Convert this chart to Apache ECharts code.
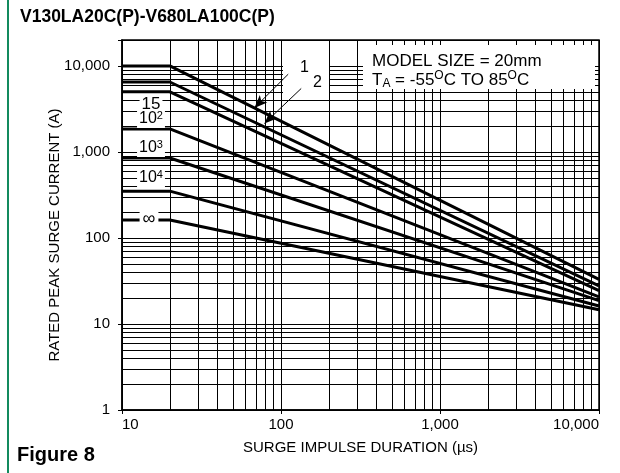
<!DOCTYPE html>
<html>
<head>
<meta charset="utf-8"/>
<title>Figure 8</title>
<script src="https://cdn.jsdelivr.net/npm/echarts@6/dist/echarts.min.js"></script>
<style>
	* { margin: 0; padding: 0; }
	body { background: #fff; }
	#chart { width: 620px; height: 473px; }
</style>
</head>
<body>
<div id="chart"></div>
<script>
// surge duration points (us): flat part ends at 20, lines run to 10,000
var durations = [10, 20, 10000];
var curveNames = ['1', '2', '15', '10^2', '10^3', '10^4', 'inf'];
// rated current on the flat part (A)
var flatCurrent = [10000, 6500, 5000, 1850, 850, 350, 162];
// rated current at 10,000 us (A)
var endCurrent = [33, 27.7, 24.4, 20.7, 18.7, 16.2, 14.6];

// minor grid values
var xMinor = [20, 30, 40, 50, 60, 70, 80, 90, 200, 300, 400, 500, 600, 700, 800, 900,
	2000, 3000, 4000, 5000, 6000, 7000, 8000, 9000];
var yMinor = [2, 3, 4, 5, 6, 7, 8, 9, 20, 30, 40, 50, 60, 70, 80, 90,
	200, 300, 400, 500, 600, 700, 800, 900, 2000, 3000, 4000, 5000, 6000, 7000, 8000, 9000];

// arrows for curves 1 and 2: [tail, head] in (us, A)
var arrow1 = [[111, 8010], [68, 3245]];
var arrow2 = [[134, 5465], [78.7, 2143]];

var FONT = "'Liberation Sans', Arial, Helvetica, sans-serif";

function majorLabel(v) {
	var e = Math.log10(v);
	if (Math.abs(e - Math.round(e)) > 1e-6) return '';
	if (v > 10001) return '';
	return Math.round(v).toLocaleString('en-US');
}

var series = [];

// minor grid lines
var gridMarks = [];
xMinor.forEach(function (v) { gridMarks.push({ xAxis: v }); });
yMinor.forEach(function (v) { gridMarks.push({ yAxis: v }); });
series.push({
	type: 'line',
	data: [],
	z: 1,
	silent: true,
	markLine: {
		z: 1,
		silent: true,
		symbol: ['none', 'none'],
		label: { show: false },
		lineStyle: { color: '#000', width: 1, type: 'solid' },
		data: gridMarks
	}
});

for (var i = 0; i < curveNames.length; i++) {
	series.push({
		name: curveNames[i],
		type: 'line',
		z: 3,
		symbol: 'none',
		silent: true,
		lineStyle: { color: '#000', width: 3 },
		data: [
			[durations[0], flatCurrent[i]],
			[durations[1], flatCurrent[i]],
			[durations[2], endCurrent[i]]
		]
	});
}

// arrows
series.push({
	type: 'line',
	data: [],
	z: 4,
	silent: true,
	markLine: {
		z: 5,
		silent: true,
		symbol: ['none', 'arrow'],
		symbolSize: [8, 13],
		label: { show: false },
		lineStyle: { color: '#000', width: 1, type: 'solid' },
		data: [
			[{ coord: arrow1[0] }, { coord: arrow1[1] }],
			[{ coord: arrow2[0] }, { coord: arrow2[1] }]
		]
	}
});

var supRich = {
	n: { fontSize: 16, fontFamily: FONT, color: '#000', lineHeight: 18, verticalAlign: 'middle' },
	sup: { fontSize: 11, fontFamily: FONT, color: '#000', lineHeight: 18, verticalAlign: 'top' },
	sub: { fontSize: 11, fontFamily: FONT, color: '#000', lineHeight: 18, verticalAlign: 'bottom' }
};
var boxRich = {
	n: { fontSize: 17, fontFamily: FONT, color: '#000', lineHeight: 18, verticalAlign: 'middle' },
	sup: { fontSize: 12, fontFamily: FONT, color: '#000', lineHeight: 18, verticalAlign: 'top' },
	sub: { fontSize: 12, fontFamily: FONT, color: '#000', lineHeight: 20, verticalAlign: 'bottom' }
};

function txt(x, y, text, opts) {
	opts = opts || {};
	return {
		type: 'text',
		x: x, y: y,
		z: opts.z || 10,
		silent: true,
		style: Object.assign({
			text: text,
			fill: '#000',
			font: (opts.weight || 'normal') + ' ' + (opts.size || 16) + 'px ' + FONT,
			align: opts.align || 'left',
			verticalAlign: 'middle',
			textAlign: opts.align || 'left',
			textVerticalAlign: 'middle'
		}, opts.style || {})
	};
}

var graphics = [
	{ type: 'line', z: 10, silent: true, shape: { x1: 8, y1: 0, x2: 8, y2: 473 }, style: { stroke: '#138a5e', lineWidth: 2 } },
	txt(20, 17, 'V130LA20C(P)-V680LA100C(P)', { weight: 'bold', size: 17.5 }),
	txt(17, 455, 'Figure 8', { weight: 'bold', size: 20 }),
	// blank boxes over the grid
	{ type: 'rect', z: 2, silent: true, shape: { x: 283, y: 41, width: 46, height: 55 }, style: { fill: '#fff' } },
	{ type: 'rect', z: 2, silent: true, shape: { x: 363, y: 45, width: 232, height: 44 }, style: { fill: '#fff' } },
	txt(372, 61, 'MODEL SIZE = 20mm', { size: 17 }),
	txt(372, 80, '{n|T}{sub|A}{n| = -55}{sup|O}{n|C TO 85}{sup|O}{n|C}', { style: { rich: boxRich } }),
	txt(300, 68, '1', { size: 16 }),
	txt(313, 83, '2', { size: 16 }),
	txt(151, 104, '15', { align: 'center', size: 17, style: { backgroundColor: '#fff', padding: [0, 2] } }),
	txt(151, 119, '{n|10}{sup|2}', { align: 'center', style: { rich: supRich, backgroundColor: '#fff', padding: [0, 2] } }),
	txt(151, 148, '{n|10}{sup|3}', { align: 'center', style: { rich: supRich, backgroundColor: '#fff', padding: [0, 2] } }),
	txt(151, 178, '{n|10}{sup|4}', { align: 'center', style: { rich: supRich, backgroundColor: '#fff', padding: [0, 2] } }),
	txt(149, 219, '\u221e', { align: 'center', size: 18, style: { backgroundColor: '#fff', padding: [0, 3] } })
];

var chart = echarts.init(document.getElementById('chart'), null, { renderer: 'canvas' });
chart.setOption({
	animation: false,
	backgroundColor: '#fff',
	grid: {
		left: 122, right: 21, top: 40, bottom: 63,
		show: true, borderColor: '#000', borderWidth: 1.5, backgroundColor: 'transparent'
	},
	xAxis: {
		type: 'log', logBase: 10, min: 10, max: 10000,
		name: 'SURGE IMPULSE DURATION (\u00b5s)',
		nameLocation: 'middle', nameGap: 30,
		nameMoveOverlap: false,
		nameTextStyle: { fontSize: 15, fontFamily: FONT, color: '#000' },
		axisLine: { show: true, lineStyle: { color: '#000', width: 1.5 } },
		axisTick: { show: true, length: 4, lineStyle: { color: '#000' } },
		axisLabel: {
			fontSize: 15, fontFamily: FONT, color: '#000', margin: 7,
			alignMinLabel: 'left', alignMaxLabel: 'right',
			formatter: majorLabel
		},
		splitLine: { show: true, lineStyle: { color: '#000', width: 1 } },
		minorTick: { show: false },
		minorSplitLine: { show: false }
	},
	yAxis: {
		type: 'log', logBase: 10, min: 1, max: 20000,
		name: 'RATED PEAK SURGE CURRENT (A)',
		nameLocation: 'middle', nameGap: 60,
		nameMoveOverlap: false,
		nameTextStyle: { fontSize: 15, fontFamily: FONT, color: '#000', padding: [0, 20, 0, 0] },
		axisLine: { show: true, lineStyle: { color: '#000', width: 1.5 } },
		axisTick: { show: true, length: 4, lineStyle: { color: '#000' } },
		axisLabel: {
			fontSize: 15, fontFamily: FONT, color: '#000', margin: 12,
			formatter: majorLabel
		},
		splitLine: { show: true, lineStyle: { color: '#000', width: 1 } },
		minorTick: { show: false },
		minorSplitLine: { show: false }
	},
	series: series,
	graphic: graphics
});
</script>
</body>
</html>
